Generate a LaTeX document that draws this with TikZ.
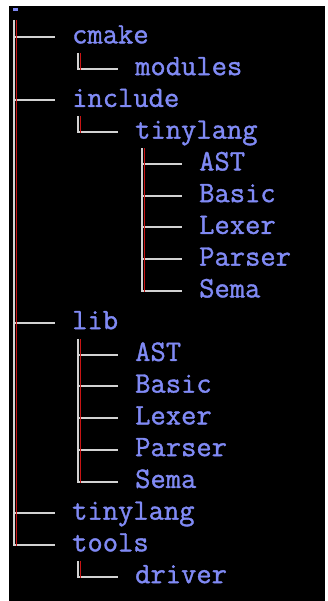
\documentclass[tikz,border=0pt]{standalone}
\usepackage{fontspec}
\newfontfamily\treefont{Latin Modern Mono}[FakeBold=1.2]
\definecolor{txtblue}{RGB}{128,138,245}
\definecolor{lgray}{RGB}{210,210,210}
\definecolor{lred}{RGB}{200,20,20}
\begin{document}
\begin{tikzpicture}[x=1pt,y=-1pt,
  entry/.style={anchor=west,inner sep=0pt,text height=12.8pt,text depth=0pt,font=\treefont\fontsize{29.7}{30}\selectfont,text=txtblue},
  hline/.style={draw=lgray,line width=2pt},
  vgray/.style={draw=lgray,line width=2.4pt},
  vred/.style={draw=lred,line width=1.2pt}]
\useasboundingbox (0,0) rectangle (327,601);
\fill[white] (0,0) rectangle (327,601);
\fill[black] (9,6) rectangle (325,601);
\def\rowy#1{37+31.75*#1}
% root marker
\node[fill=txtblue,minimum width=5pt,minimum height=3pt,inner sep=0pt] (root) at (15,10) {};
% entries
\node[entry] (cmake)    at (72,{\rowy{0}})  {cmake};
\node[entry] (modules)  at (135,{\rowy{1}}) {modules};
\node[entry] (include)  at (72,{\rowy{2}})  {include};
\node[entry] (incTL)    at (135,{\rowy{3}}) {tinylang};
\node[entry] (incAST)   at (199,{\rowy{4}}) {AST};
\node[entry] (incBasic) at (199,{\rowy{5}}) {Basic};
\node[entry] (incLexer) at (199,{\rowy{6}}) {Lexer};
\node[entry] (incParser) at (199,{\rowy{7}}) {Parser};
\node[entry] (incSema)  at (199,{\rowy{8}}) {Sema};
\node[entry] (lib)      at (72,{\rowy{9}})  {lib};
\node[entry] (libAST)   at (135,{\rowy{10}}) {AST};
\node[entry] (libBasic) at (135,{\rowy{11}}) {Basic};
\node[entry] (libLexer) at (135,{\rowy{12}}) {Lexer};
\node[entry] (libParser) at (135,{\rowy{13}}) {Parser};
\node[entry] (libSema)  at (135,{\rowy{14}}) {Sema};
\node[entry] (tinylang) at (72,{\rowy{15}}) {tinylang};
\node[entry] (tools)    at (72,{\rowy{16}}) {tools};
\node[entry] (driver)   at (135,{\rowy{17}}) {driver};
% trunk tops
\coordinate (t0) at (14,20);
\coordinate (tc) at (78,{\rowy{0}+16});
\coordinate (ti) at (78,{\rowy{2}+16});
\coordinate (tt) at (142,{\rowy{3}+16});
\coordinate (tl) at (78,{\rowy{9}+16});
\coordinate (to) at (78,{\rowy{16}+16});
% horizontal branches
\foreach \t/\n in {t0/cmake,t0/include,t0/lib,t0/tinylang,t0/tools,
  tc/modules,ti/incTL,
  tt/incAST,tt/incBasic,tt/incLexer,tt/incParser,tt/incSema,
  tl/libAST,tl/libBasic,tl/libLexer,tl/libParser,tl/libSema,
  to/driver}
  \draw[hline] (\t |- \n.west) -- ([xshift=-17pt]\n.west);
% vertical trunks
\foreach \t/\n in {t0/tools,tc/modules,ti/incTL,tt/incSema,tl/libSema,to/driver}{
  \draw[vgray] (\t) -- ([yshift=-1pt]\t |- \n.west);
  \draw[vred] ([xshift=2.2pt]\t) -- ([xshift=2.2pt,yshift=-1pt]\t |- \n.west);
}
\end{tikzpicture}
\end{document}
